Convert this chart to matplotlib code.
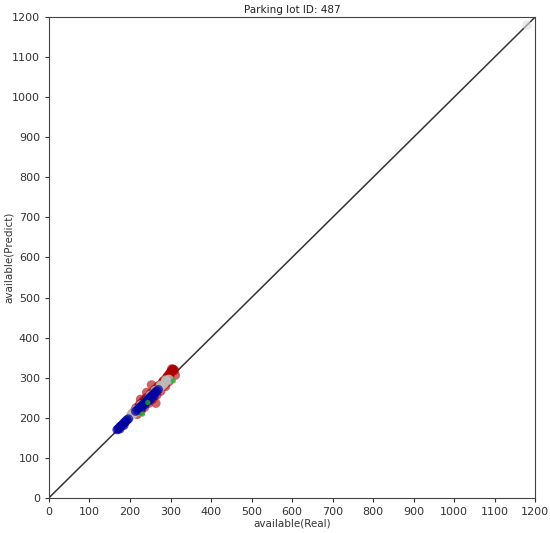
import matplotlib
matplotlib.use("Agg")
import matplotlib.pyplot as plt

# real vs predicted values per group
red_real = [205, 212, 218, 222, 226, 230, 234, 238, 241, 244, 248, 252, 255, 258, 262, 265, 268, 272, 276, 280,
            284, 288, 290, 293, 296, 298, 300, 302, 304, 305, 306, 308, 310, 303, 299, 253, 264, 241, 226, 286,
            215, 224, 233, 240, 250, 260, 270, 282, 292, 300, 218, 228, 236, 246, 256, 266, 276, 288, 296, 312]
red_pred = [210, 218, 222, 228, 232, 236, 240, 243, 247, 250, 254, 257, 262, 264, 268, 272, 276, 279, 283, 288,
            292, 296, 300, 304, 307, 310, 313, 316, 318, 320, 321, 320, 318, 322, 312, 282, 236, 263, 246, 282,
            225, 234, 243, 250, 260, 270, 280, 292, 302, 309, 208, 218, 226, 236, 246, 256, 266, 278, 290, 306]

gray_real = [182, 188, 194, 200, 206, 212, 218, 224, 230, 236, 242, 248, 254, 260, 266, 272, 278, 284, 290, 296,
             203, 215, 227, 250, 262, 275, 288]
gray_pred = [184, 190, 195, 201, 207, 213, 219, 224, 231, 236, 243, 248, 255, 260, 267, 272, 279, 284, 291, 296,
             208, 220, 232, 256, 268, 281, 294]

blue_real = [168, 171, 174, 177, 180, 183, 186, 189, 192, 196, 214, 218, 222, 226, 230, 234, 238, 242,
             246, 250, 254, 258, 262, 266, 270, 229, 237, 245, 175, 185, 252, 260]
blue_pred = [170, 172, 176, 179, 181, 184, 188, 190, 194, 197, 216, 219, 224, 227, 231, 235, 239, 243,
             247, 251, 255, 259, 263, 266, 270, 225, 233, 241, 172, 181, 247, 255]

green_real = [231, 307, 244]
green_pred = [209, 292, 238]

# lone light point near the top-right corner
corner_real = [1180]
corner_pred = [1180]

fig = plt.figure(figsize=(5.5, 5.33), dpi=100)
ax = fig.add_axes([0.089, 0.066, 0.884, 0.902])

ax.plot([0, 1200], [0, 1200], color="#333333", lw=1.1, zorder=1)
ax.scatter(red_real, red_pred, s=45, color="#aa0000", alpha=0.6, edgecolors="none", zorder=2)
ax.scatter(gray_real, gray_pred, s=45, color="#bbbbbb", alpha=0.85, edgecolors="none", zorder=3)
ax.scatter(blue_real, blue_pred, s=45, color="#0000a0", alpha=0.7, edgecolors="none", zorder=4)
ax.scatter(green_real, green_pred, s=14, color="#22aa22", alpha=0.8, edgecolors="none", zorder=5)
ax.scatter(corner_real, corner_pred, s=45, color="#dddddd", alpha=0.6, edgecolors="none", zorder=3)

ax.set_xlim(0, 1200)
ax.set_ylim(0, 1200)
ax.set_xticks(range(0, 1201, 100))
ax.set_yticks(range(0, 1201, 100))
ax.tick_params(labelsize=8, length=3, color="#333333", labelcolor="#333333")
for sp in ax.spines.values():
    sp.set_color("#444444")
ax.set_xlabel("available(Real)", fontsize=7.5, labelpad=1, color="#333333")
ax.set_ylabel("available(Predict)", fontsize=7.5, color="#333333")
ax.yaxis.set_label_coords(-0.073, 0.5)
ax.set_title("Parking lot ID: 487", fontsize=7.5, pad=3, color="#222222")

fig.savefig("out.png", dpi=100)
